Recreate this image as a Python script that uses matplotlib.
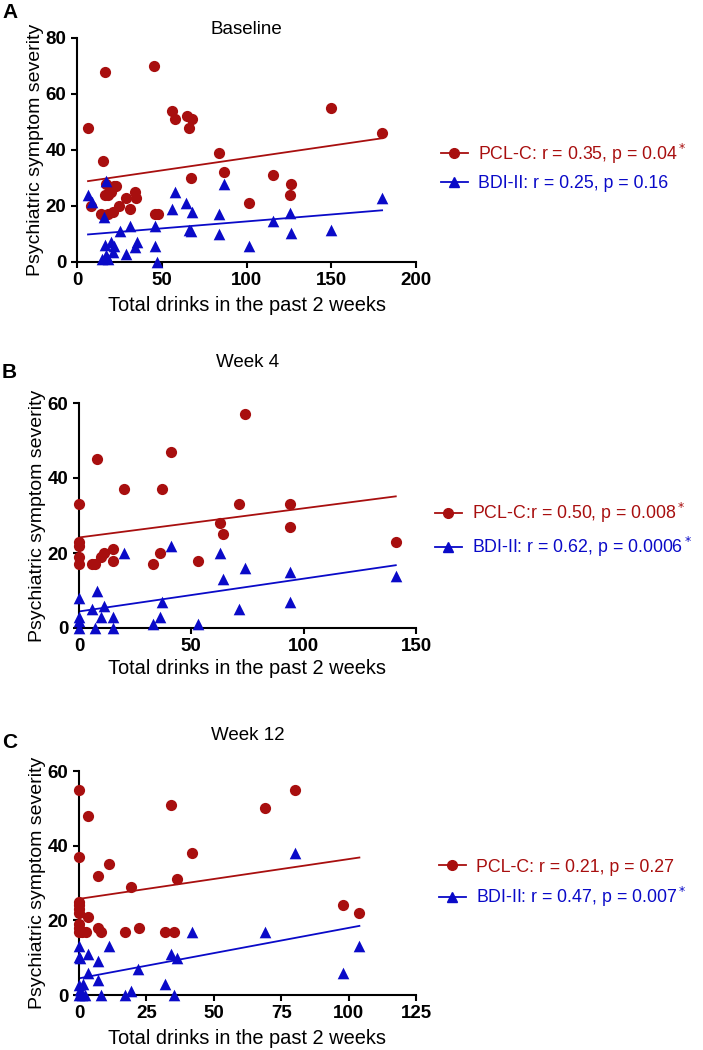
import numpy as np
import matplotlib.pyplot as plt
from matplotlib.lines import Line2D

plt.rcParams['font.family'] = ['Liberation Sans', 'DejaVu Sans']

RED = '#A80F0F'
BLUE = '#0A0AC8'

# Baseline
a_pcl_x = [6.5, 8.4, 16.5, 15.3, 17, 16.5, 18, 14, 18, 20, 22, 23, 21, 25, 29, 31.4, 34.5, 35,
           45.7, 46, 48, 56, 58, 65, 68, 66, 67, 84, 87, 101.6, 115.7, 126.5, 125.5, 150, 180]
a_pcl_y = [48, 20, 68, 36, 28, 24, 24, 17, 17, 25, 27, 27, 18, 20, 23, 19, 25, 23,
           70, 17, 17, 54, 51, 52, 51, 48, 30, 39, 32, 21, 31, 28, 24, 55, 46]
a_bdi_x = [6.5, 8.6, 17, 15.7, 15, 16.5, 17, 18, 20, 21, 22, 25.5, 29, 31.4, 34, 35.3, 46, 46, 47,
           56, 58, 64.5, 66, 67, 68, 84, 84, 87, 101.6, 115.7, 125.5, 126.5, 150, 180]
a_bdi_y = [24, 21.5, 29, 16, 1, 6, 2.4, 1, 7, 3.6, 5.6, 11, 3, 13, 5.4, 7, 13, 5.6, 0,
           19, 25, 21, 11.6, 11, 17.7, 17, 10, 28, 5.6, 14.7, 17.5, 10.5, 11.6, 23]

# Week 4
b_pcl_x = [0, 0, 0, 0, 0, 5.6, 7, 8.2, 10, 11, 15.3, 15.3, 20, 33, 36, 37, 41, 53, 62.8, 64,
           71, 74, 94, 94, 141]
b_pcl_y = [33, 23, 22, 19, 17, 17, 17, 45, 19, 20, 21, 18, 37, 17, 20, 37, 47, 18, 28, 25,
           33, 57, 33, 27, 23]
b_bdi_x = [0, 0, 0, 0, 8, 6, 11, 10, 7, 15, 15, 20, 33, 36, 37, 41, 53, 62.8, 64, 71, 74, 94, 94, 141]
b_bdi_y = [8, 3, 2, 0, 10, 5, 6, 3, 0, 3, 0, 20, 1, 3, 7, 22, 1, 20, 13, 5, 16, 15, 7, 14]

# Week 12
c_pcl_x = [0, 0, 0, 0, 0, 0, 0, 0, 0, 1, 2.6, 3.2, 3.5, 7.2, 7.2, 8.1, 11, 17, 19.3,
           22.2, 32, 34, 35.3, 36.2, 42, 69, 80, 98, 104]
c_pcl_y = [55, 37, 25, 24, 23, 22, 19, 18, 17, 17, 17, 48, 21, 32, 18, 17, 35, 17, 29,
           18, 17, 51, 17, 31, 38, 50, 55, 24, 22]
c_bdi_x = [0, 0, 0.3, 0, 0.5, 0, 1, 1.6, 2.2, 3.2, 3.2, 7, 7, 8, 11, 17, 19.3, 22, 32, 34,
           35.3, 36.2, 42, 69, 80, 98, 104]
c_bdi_y = [13, 10.3, 9.8, 2.7, 1.3, 0, 0, 3, 0, 11, 6, 9, 4, 0, 13, 0, 1, 7, 3, 11,
           0, 10, 17, 17, 38, 6, 13]

titles = ['Baseline', 'Week 4', 'Week 12']
letters = ['A', 'B', 'C']
pcl_labels = ['PCL-C: r = 0.35, p = 0.04$^*$', 'PCL-C:r = 0.50, p = 0.008$^*$', 'PCL-C: r = 0.21, p = 0.27']
bdi_labels = ['BDI-II: r = 0.25, p = 0.16', 'BDI-II: r = 0.62, p = 0.0006$^*$', 'BDI-II: r = 0.47, p = 0.007$^*$']
x_ticks = [[0, 50, 100, 150, 200], [0, 50, 100, 150], [0, 25, 50, 75, 100, 125]]
y_ticks = [[0, 20, 40, 60, 80], [0, 20, 40, 60], [0, 20, 40, 60]]

W, H = 703, 1050
fig = plt.figure(figsize=(W / 100, H / 100), dpi=100)

# pixel boxes: left, right, top, bottom
boxes = [(77, 416, 38, 262), (79, 416, 403, 628), (79, 416, 771, 995)]
title_y = [29, 362, 735]
letter_y = [12, 373, 742]
xlabel_y = [306, 668, 1038]
legend_y = [167, 530, 884]
legend_x = [432, 426, 430]


def fit_line(ax, x, y, color):
    x = np.array(x)
    k, b = np.polyfit(x, y, 1)
    xs = np.array([x.min(), x.max()])
    ax.plot(xs, k * xs + b, color=color, lw=1.3, zorder=2)


def draw_panel(i, pcl, bdi):
    l, r, t, b = boxes[i]
    ax = fig.add_axes([l / W, 1 - b / H, (r - l) / W, (b - t) / H])
    ax.scatter(pcl[0], pcl[1], s=65, marker='o', color=RED, clip_on=False, zorder=3, lw=0)
    ax.scatter(bdi[0], bdi[1], s=70, marker='^', color=BLUE, clip_on=False, zorder=3, lw=0)
    fit_line(ax, pcl[0], pcl[1], RED)
    fit_line(ax, bdi[0], bdi[1], BLUE)

    ax.set_xlim(x_ticks[i][0], x_ticks[i][-1])
    ax.set_ylim(y_ticks[i][0], y_ticks[i][-1])
    ax.set_xticks(x_ticks[i])
    ax.set_yticks(y_ticks[i])
    for s in ['top', 'right']:
        ax.spines[s].set_visible(False)
    for s in ['left', 'bottom']:
        ax.spines[s].set_linewidth(1.5)
    ax.tick_params(width=1.5, length=4.5, labelsize=13.5, pad=3)
    for lab in ax.get_xticklabels() + ax.get_yticklabels():
        lab.set_fontweight('bold')
    ax.set_ylabel('Psychiatric symptom severity', fontsize=14, labelpad=1)

    cx = (l + r) / 2 / W
    fig.text(cx, 1 - title_y[i] / H, titles[i], ha='center', va='center', fontsize=13.5)
    fig.text(cx, 1 - xlabel_y[i] / H, 'Total drinks in the past 2 weeks', ha='center', va='center', fontsize=14.4)
    fig.text(2 / W, 1 - letter_y[i] / H, letters[i], ha='left', va='center', fontsize=15, fontweight='bold')

    handles = [Line2D([], [], color=RED, marker='o', ms=7, lw=1.3),
               Line2D([], [], color=BLUE, marker='^', ms=7, lw=1.3)]
    ax.legend(handles, [pcl_labels[i], bdi_labels[i]], loc='center left',
              bbox_to_anchor=(legend_x[i] / W, 1 - legend_y[i] / H), bbox_transform=fig.transFigure,
              frameon=False, fontsize=12.8, labelcolor='linecolor', handlelength=1.5,
              handletextpad=0.6, labelspacing=0.55, borderpad=0)


draw_panel(0, (a_pcl_x, a_pcl_y), (a_bdi_x, a_bdi_y))
draw_panel(1, (b_pcl_x, b_pcl_y), (b_bdi_x, b_bdi_y))
draw_panel(2, (c_pcl_x, c_pcl_y), (c_bdi_x, c_bdi_y))

fig.savefig('out.png', dpi=100)
